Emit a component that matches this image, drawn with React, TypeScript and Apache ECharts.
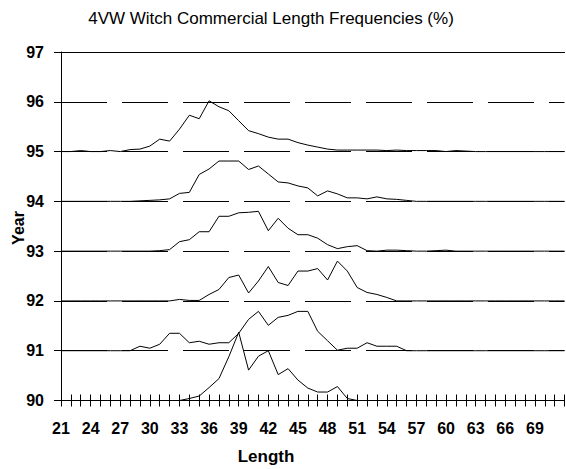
import React, { useEffect, useRef } from "react";
import * as echarts from "echarts";

// Length categories 21..72
const lengths: string[] = [];
for (let l = 21; l <= 72; l++) lengths.push(String(l));

const years = [90, 91, 92, 93, 94, 95];
const yTicks = [90, 91, 92, 93, 94, 95, 96, 97];

// Frequencies (1 axis unit = 10), lengths 21..72
const f95 = [0, 0, 0.2, 0, 0, 0.2, 0, 0.4, 0.5, 1.1, 2.5, 2.1, 4.5, 7.3, 6.6, 10.2, 9.0, 8.2, 6.2, 4.2, 3.6, 2.9, 2.5, 2.5, 1.8, 1.3, 0.9, 0.5, 0.3, 0.3, 0.3, 0.3, 0.3, 0.2, 0.3, 0.2, 0.2, 0.2, 0.2, 0, 0.2, 0.1, 0, 0, 0, 0, 0, 0, 0, 0, 0, 0];
const f94 = [0, 0, 0, 0, 0, 0, 0, 0, 0.1, 0.2, 0.3, 0.5, 1.6, 1.8, 5.4, 6.5, 8.1, 8.1, 8.1, 6.4, 7.1, 5.5, 3.9, 3.7, 3.1, 2.7, 1.1, 2.1, 1.5, 0.7, 0.7, 0.5, 0.9, 0.5, 0.4, 0.2, 0, 0, 0, 0, 0, 0, 0, 0, 0, 0, 0, 0, 0, 0, 0, 0];
const f93 = [0, 0, 0, 0, 0, 0, 0, 0, 0, 0, 0.1, 0.3, 1.9, 2.3, 3.9, 3.9, 7.0, 7.0, 7.7, 7.8, 8.0, 4.1, 6.6, 4.6, 3.3, 3.3, 2.6, 1.3, 0.5, 0.9, 1.1, 0.1, 0, 0.2, 0.2, 0.1, 0, 0, 0.1, 0.2, 0, 0, 0, 0, 0, 0, 0, 0, 0, 0, 0, 0];
const f92 = [0, 0, 0, 0, 0, 0, 0, 0, 0, 0, 0, 0, 0.3, 0.1, 0.1, 1.3, 2.3, 4.7, 5.2, 1.6, 4.0, 6.9, 3.7, 3.1, 6.0, 6.0, 6.5, 4.2, 8.0, 6.0, 2.7, 1.7, 1.3, 0.7, 0, 0, 0, 0, 0, 0, 0, 0, 0, 0, 0, 0, 0, 0, 0, 0, 0, 0];
const f91 = [0, 0, 0, 0, 0, 0, 0, 0, 0.9, 0.5, 1.3, 3.5, 3.5, 1.6, 1.9, 1.3, 1.6, 1.6, 3.5, 6.3, 7.9, 5.1, 6.7, 7.1, 7.9, 7.9, 3.9, 2.0, 0.1, 0.5, 0.5, 1.6, 0.9, 0.9, 0.9, 0, 0, 0, 0, 0, 0, 0, 0, 0, 0, 0, 0, 0, 0, 0, 0, 0];
const f90 = [0, 0, 0, 0, 0, 0, 0, 0, 0, 0, 0, 0, 0, 0.4, 0.9, 2.6, 4.4, 8.8, 13.7, 6.1, 8.9, 10.0, 5.2, 6.4, 4.1, 2.5, 1.7, 1.7, 2.8, 0.4, 0, 0, 0, 0, 0, 0, 0, 0, 0, 0, 0, 0, 0, 0, 0, 0, 0, 0, 0, 0, 0, 0];

const freqs = [f90, f91, f92, f93, f94, f95];

const FONT = "Arial, 'Liberation Sans', Helvetica, sans-serif";

export default function App() {
  const ref = useRef<HTMLDivElement>(null);
  useEffect(() => {
    if (!ref.current) return;
    const chart = echarts.init(ref.current, undefined, { renderer: "svg" });
    const series = years.map((yr, i) => ({
      type: "line",
      name: String(yr),
      xAxisIndex: 0,
      yAxisIndex: 0,
      data: freqs[i].map((v) => +(yr + v / 10).toFixed(3)),
      showSymbol: false,
      symbol: "none",
      lineStyle: { color: "#000", width: 1 },
      z: 3,
    }));
    const option = {
      animation: false,
      backgroundColor: "#fff",
      grid: { left: 61, top: 52, right: 1.5, bottom: 68.5, containLabel: false },
      xAxis: [
        {
          type: "category",
          position: "bottom",
          data: lengths,
          boundaryGap: false,
          axisLine: { show: true, lineStyle: { color: "#000", width: 1 } },
          axisTick: { show: true, interval: 0, length: 6, inside: false, lineStyle: { color: "#000" } },
          axisLabel: {
            interval: (idx: number, val: string) => idx % 3 === 0 && +val <= 69,
            margin: 20,
            color: "#000",
            fontFamily: FONT,
            fontWeight: "bold",
            fontSize: 16,
          },
          splitLine: { show: false },
          z: 4,
        },
        {
          type: "category",
          position: "bottom",
          data: lengths,
          boundaryGap: false,
          axisLine: { show: false },
          axisTick: { show: true, interval: 0, length: 6, inside: true, lineStyle: { color: "#000" } },
          axisLabel: { show: false },
          splitLine: { show: false },
        },
        {
          type: "category",
          position: "top",
          data: lengths,
          boundaryGap: false,
          axisLine: { show: true, lineStyle: { color: "#000", width: 1 } },
          axisTick: { show: false },
          axisLabel: { show: false },
          splitLine: { show: false },
        },
      ],
      yAxis: {
        type: "value",
        min: yTicks[0],
        max: yTicks[yTicks.length - 1],
        interval: 1,
        axisLine: { show: true, lineStyle: { color: "#000", width: 1 } },
        axisTick: { show: true, length: 7, lineStyle: { color: "#000" } },
        axisLabel: {
          margin: 17,
          color: "#000",
          fontFamily: FONT,
          fontWeight: "bold",
          fontSize: 16,
        },
        splitLine: { show: true, lineStyle: { color: "#000", width: 1, type: [46, 15] } },
      },
      graphic: [
        {
          type: "text",
          x: 271,
          y: 18,
          style: {
            text: "4VW Witch Commercial Length Frequencies (%)",
            fill: "#000",
            font: `normal 17px ${FONT}`,
            textAlign: "center",
            textVerticalAlign: "middle",
          },
        },
        {
          type: "text",
          x: 266,
          y: 456,
          style: {
            text: "Length",
            fill: "#000",
            font: `bold 17px ${FONT}`,
            textAlign: "center",
            textVerticalAlign: "middle",
          },
        },
        {
          type: "text",
          x: 18,
          y: 228,
          rotation: Math.PI / 2,
          style: {
            text: "Year",
            fill: "#000",
            font: `bold 16px ${FONT}`,
            textAlign: "center",
            textVerticalAlign: "middle",
          },
        },
      ],
      series,
    };
    chart.setOption(option as any);
    return () => chart.dispose();
  }, []);
  return (
    <div style={{ position: "fixed", left: 0, top: 0, width: 566, height: 469, overflow: "hidden", background: "#fff" }}>
      <div ref={ref} style={{ width: 566, height: 469 }} />
    </div>
  );
}
